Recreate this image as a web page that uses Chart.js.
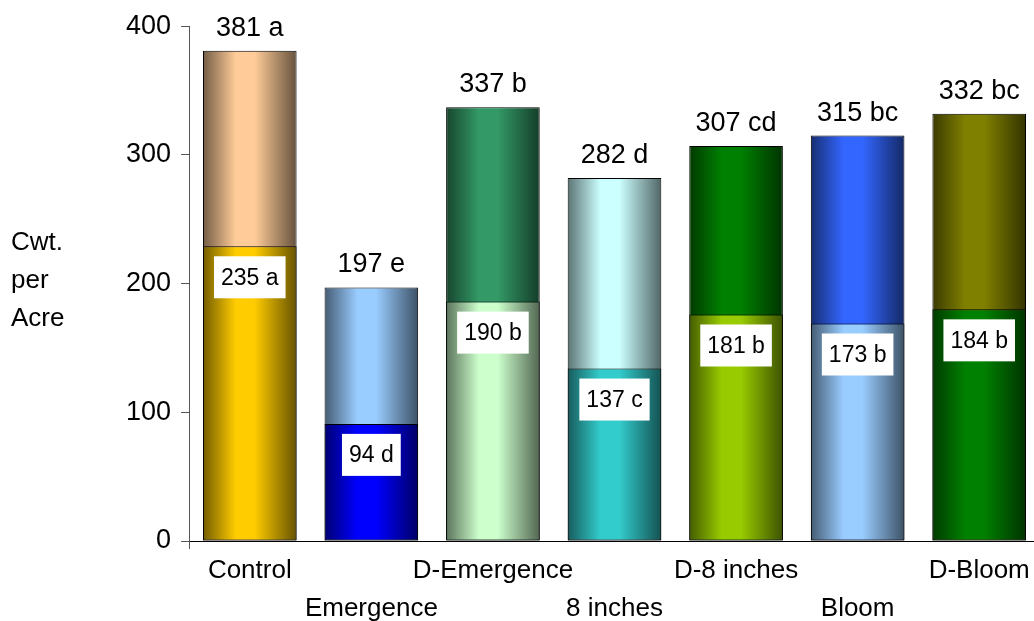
<!DOCTYPE html>
<html>
<head>
<meta charset="utf-8">
<script src="https://cdn.jsdelivr.net/npm/chart.js@4.4.1/dist/chart.umd.min.js"></script>
<style>
  html, body { margin: 0; padding: 0; background: #fff; overflow: hidden; }
  #wrap { width: 1040px; height: 621px; }
</style>
</head>
<body>
<div id="wrap"><canvas id="yieldChart"></canvas></div>
<script>
// Treatments (two-row x labels: first row / second row)
const treatments = ["Control", "Emergence", "D-Emergence", "8 inches", "D-8 inches", "Bloom", "D-Bloom"];
const labelRow = [0, 1, 0, 1, 0, 1, 0];

// Total yield (whole bar) and lower segment, Cwt. per acre
const totalYield = [381, 197, 337, 282, 307, 315, 332];
const lowerYield = [229, 91, 186, 134, 176, 169, 180];

// Text shown on the bars
const totalLabels = ["381 a", "197 e", "337 b", "282 d", "307 cd", "315 bc", "332 bc"];
const lowerLabels = ["235 a", "94 d", "190 b", "137 c", "181 b", "173 b", "184 b"];

// y-axis ticks
const yTicks = [0, 100, 200, 300, 400];

// bar colours (brightest part of the shading)
const upperColors = ["#FFCC99", "#99CCFF", "#339966", "#CCFFFF", "#008000", "#3366FF", "#808000"];
const lowerColors = ["#FFCC00", "#0000FF", "#CCFFCC", "#33CCCC", "#99CC00", "#99CCFF", "#008000"];

const FONT = "'Liberation Sans', Arial, sans-serif";
const BAR_PCT = 0.77;

function shade(hex, f) {
  const n = parseInt(hex.slice(1), 16);
  const r = Math.round(((n >> 16) & 255) * f);
  const g = Math.round(((n >> 8) & 255) * f);
  const b = Math.round((n & 255) * f);
  return `rgb(${r},${g},${b})`;
}

// cylinder-like horizontal gradient for each bar
function barGradient(colors) {
  return function (context) {
    const chart = context.chart;
    const base = colors[context.dataIndex];
    if (!chart.chartArea || !chart.scales.x) return base;
    const xs = chart.scales.x;
    const cx = xs.getPixelForValue(context.dataIndex);
    const half = (xs.width / treatments.length) * BAR_PCT / 2;
    const g = chart.ctx.createLinearGradient(cx - half, 0, cx + half, 0);
    g.addColorStop(0, shade(base, 0.45));
    g.addColorStop(0.35, base);
    g.addColorStop(0.55, base);
    g.addColorStop(1, shade(base, 0.4));
    return g;
  };
}

// labels above the bars and in white boxes on the lower segment
const barTextPlugin = {
  id: "barText",
  afterDatasetsDraw(chart) {
    const { ctx } = chart;
    const lowerMeta = chart.getDatasetMeta(0);
    const totalMeta = chart.getDatasetMeta(1);
    ctx.save();
    ctx.textAlign = "center";
    ctx.fillStyle = "#000";
    ctx.font = `27px ${FONT}`;
    ctx.textBaseline = "alphabetic";
    totalMeta.data.forEach((bar, i) => {
      ctx.fillText(totalLabels[i], bar.x, bar.y - 15);
    });
    ctx.font = `23px ${FONT}`;
    ctx.textBaseline = "middle";
    lowerMeta.data.forEach((bar, i) => {
      const w = ctx.measureText(lowerLabels[i]).width + 14;
      const h = 42;
      const top = bar.y + 10;
      ctx.fillStyle = "#fff";
      ctx.fillRect(bar.x - w / 2, top, w, h);
      ctx.fillStyle = "#000";
      ctx.fillText(lowerLabels[i], bar.x, top + h / 2 + 1);
    });
    ctx.restore();
  },
};

// horizontal "Cwt. per Acre" title on the left, and the axis stub below 0
const yTitlePlugin = {
  id: "yTitle",
  afterDraw(chart) {
    const { ctx, chartArea } = chart;
    ctx.save();
    ctx.font = `26px ${FONT}`;
    ctx.fillStyle = "#000";
    ctx.textAlign = "left";
    ctx.textBaseline = "middle";
    ["Cwt.", "per", "Acre"].forEach((t, i) => ctx.fillText(t, 11, 243 + i * 38));
    ctx.strokeStyle = "#555";
    ctx.lineWidth = 1;
    ctx.beginPath();
    ctx.moveTo(chartArea.left + 0.5, chartArea.bottom);
    ctx.lineTo(chartArea.left + 0.5, chartArea.bottom + 8);
    ctx.stroke();
    ctx.restore();
  },
};

new Chart(document.getElementById("yieldChart").getContext("2d"), {
  type: "bar",
  data: {
    labels: treatments.map((t, i) => (labelRow[i] === 0 ? [t, ""] : ["", t])),
    datasets: [
      {
        data: lowerYield,
        backgroundColor: barGradient(lowerColors),
        borderColor: "#000",
        borderWidth: 1,
        borderSkipped: false,
      },
      {
        data: totalYield,
        backgroundColor: barGradient(upperColors),
        borderColor: "#000",
        borderWidth: 1,
        borderSkipped: false,
      },
    ],
  },
  options: {
    responsive: true,
    maintainAspectRatio: false,
    animation: false,
    grouped: false,
    barPercentage: BAR_PCT,
    categoryPercentage: 1,
    layout: { padding: { top: 24, right: 0, bottom: 0, left: 0 } },
    plugins: {
      legend: { display: false },
      tooltip: { enabled: false },
    },
    scales: {
      x: {
        grid: { display: false },
        border: { display: true, color: "#000", width: 1 },
        ticks: {
          color: "#000",
          font: { family: FONT, size: 26, lineHeight: 1.45 },
          maxRotation: 0,
          autoSkip: false,
          padding: 3,
        },
        afterFit(scale) { scale.height = 80; },
      },
      y: {
        min: 0,
        max: 400,
        afterBuildTicks(scale) { scale.ticks = yTicks.map((v) => ({ value: v })); },
        grid: {
          drawOnChartArea: false,
          drawTicks: true,
          tickLength: 8,
          color: "#555",
        },
        border: { display: true, color: "#555", width: 1 },
        ticks: {
          color: "#000",
          font: { family: FONT, size: 27 },
          padding: 10,
        },
        afterFit(scale) { scale.width = 189; },
      },
    },
  },
  plugins: [barTextPlugin, yTitlePlugin],
});
</script>
</body>
</html>
